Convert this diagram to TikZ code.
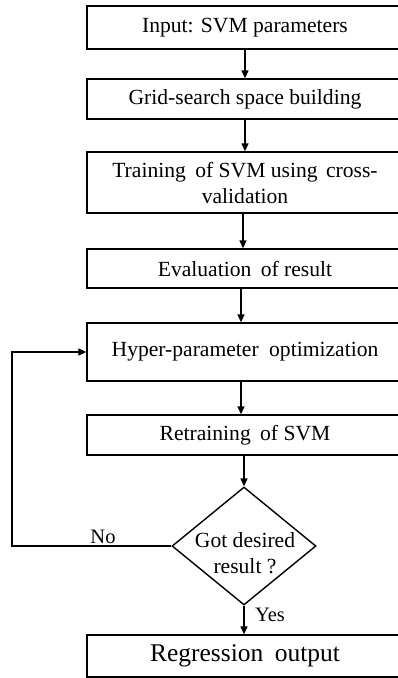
\documentclass[tikz,border=0pt]{standalone}
\usepackage{fontspec}
\setmainfont{Liberation Serif}
\usetikzlibrary{arrows.meta,shapes.geometric}
\begin{document}
\begin{tikzpicture}[x=1pt,y=-1pt,
  box/.style={draw, line width=1.4pt, minimum width=316pt, inner sep=0pt,
    align=center, font=\fontsize{21.6}{26}\selectfont},
  flow/.style={line width=1.4pt, -{Triangle[length=8pt,width=7pt]}},
  tag/.style={inner sep=0pt, font=\fontsize{20.5}{24}\selectfont}]
\useasboundingbox (0,0) rectangle (398,678);
\clip (0,0) rectangle (398,678);

% process steps
\node[box, minimum height=43pt] (inp) at (245,27.5) {Input: SVM parameters};
\node[box, minimum height=40pt] (grid) at (245,99) {Grid-search space building};
\node[box, minimum height=61pt] (train) at (245,182.5)
  {Training\hspace{4pt} of SVM using\hspace{3pt} cross-\\validation};
\node[box, minimum height=39pt] (eval) at (245,268.5) {Evaluation\hspace{4pt} of result};
\node[box, minimum height=58pt] (hyper) at (245,352) {Hyper-parameter\hspace{5pt} optimization};
\node[box, minimum height=40pt] (retrain) at (245,435) {Retraining\hspace{4pt} of SVM};

% decision
\node[diamond, draw, line width=1.4pt, minimum width=144pt, minimum height=118pt,
  inner sep=0pt] (dec) at (244,546) {};
\node[align=center, inner sep=0pt, font=\fontsize{21.6}{26}\selectfont] (dectext)
  at (245,553) {Got desired\\result ?};

\node[box, minimum height=42pt, font=\fontsize{25.5}{30}\selectfont] (out) at (245,656)
  {Regression\hspace{5pt} output};

% connectors
\draw[flow] (inp) -- (grid);
\draw[flow] (grid) -- (train);
\draw[flow] ([xshift=-2pt]train.south) -- ([xshift=-2pt]eval.north);
\draw[flow] ([xshift=-4pt]eval.south) -- ([xshift=-4pt]hyper.north);
\draw[flow] ([xshift=-4pt]hyper.south) -- ([xshift=-4pt]retrain.north);
\draw[flow] (retrain.south -| dec.north) -- (dec.north);
\draw[flow] (dec.south) -- (dec.south |- out.north);

% feedback loop
\coordinate (loop) at (12,546);
\draw[flow] (dec.west) -- (loop) |- (hyper.west);

\node[tag] (no) at (103,537) {No};
\node[tag] (yes) at (270,615) {Yes};
\end{tikzpicture}
\end{document}
